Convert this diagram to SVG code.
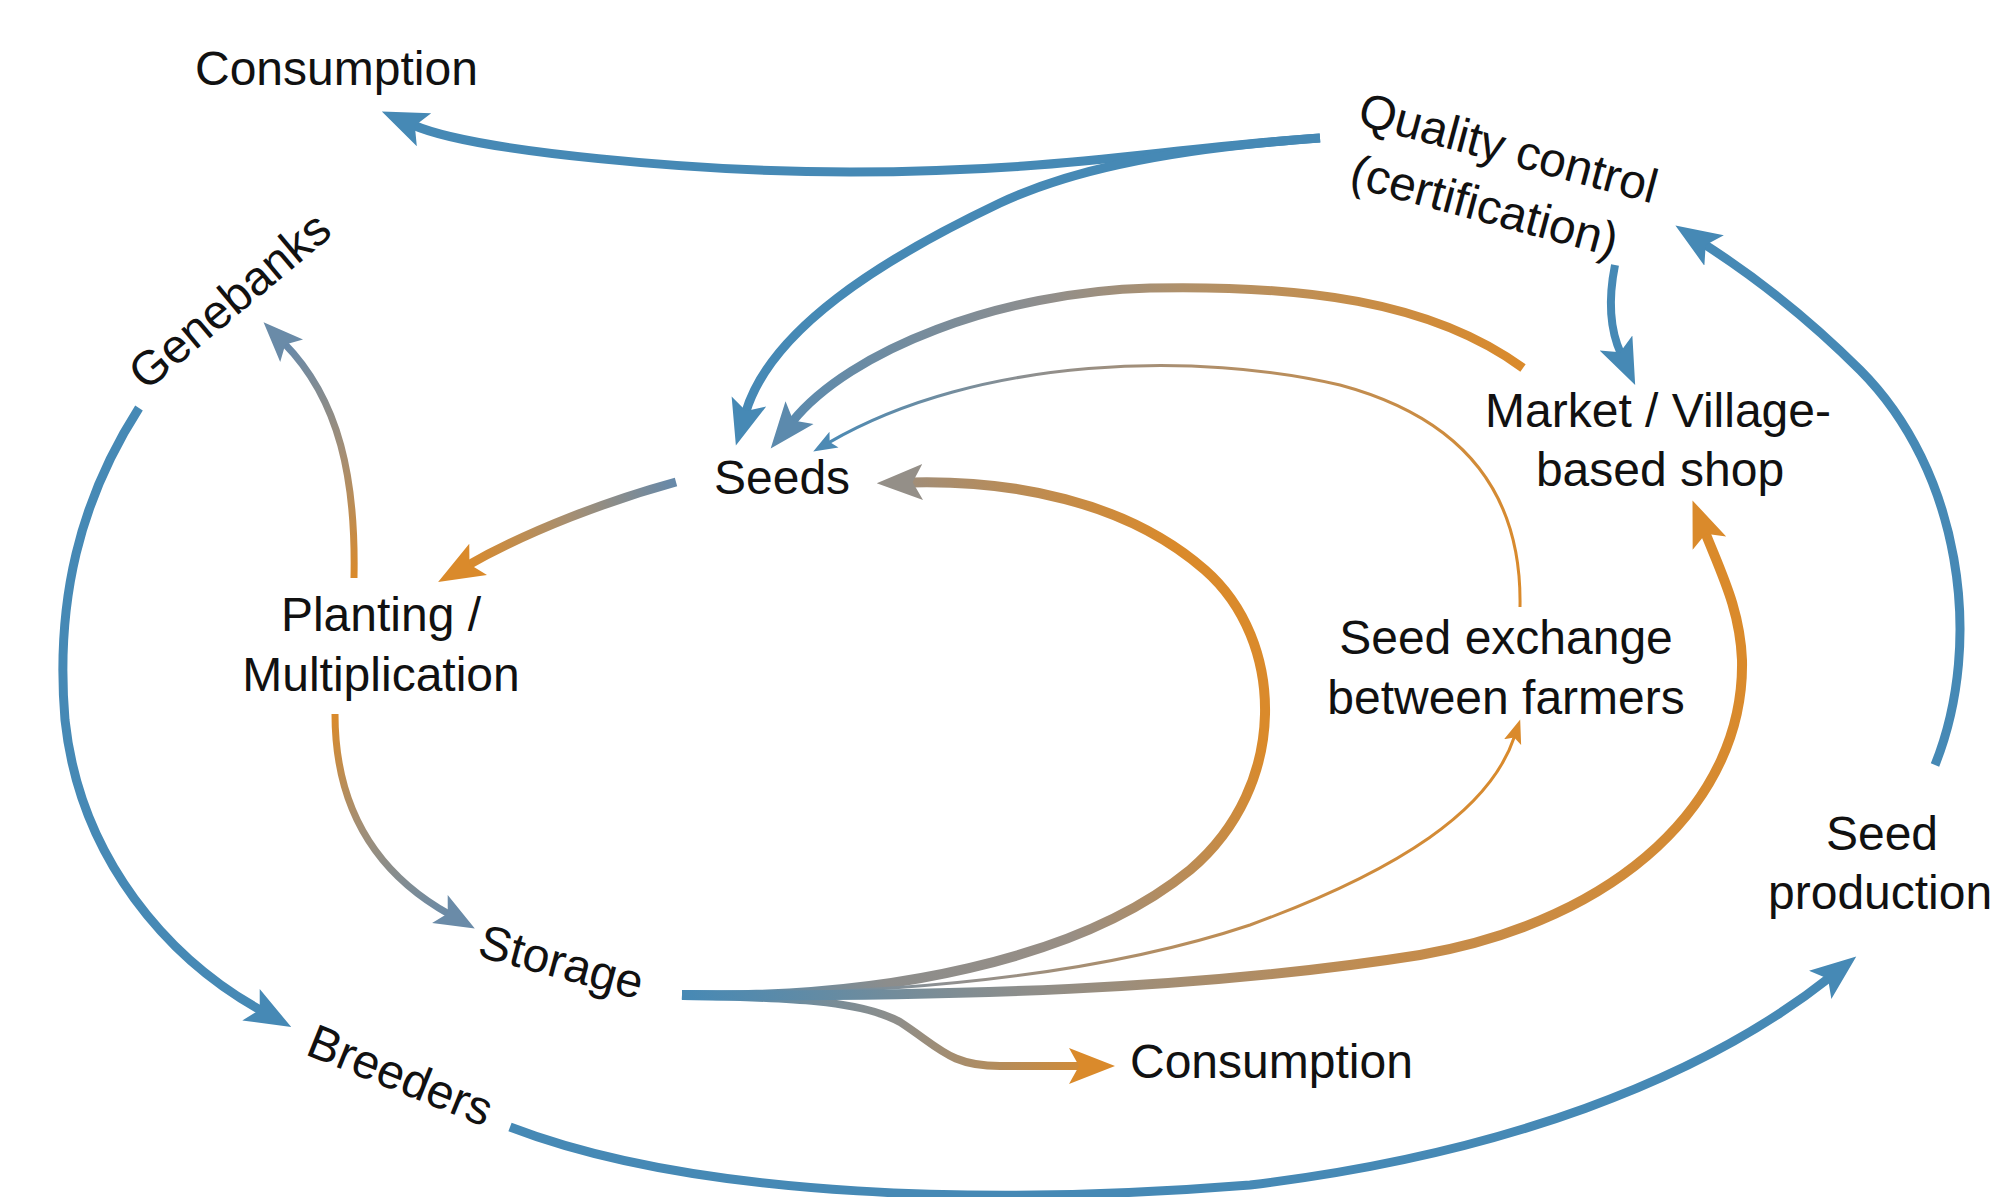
<svg xmlns="http://www.w3.org/2000/svg" width="1990" height="1197" viewBox="0 0 1990 1197">
<style>
text{font-family:"Liberation Sans",Arial,sans-serif;font-size:48px;fill:#111}
.c{fill:none;stroke-linecap:butt}
.b{stroke:#4689b5}
.w9{stroke-width:9}
.w8{stroke-width:8}
.w7{stroke-width:7}
.w3{stroke-width:3}
.w10{stroke-width:10}
</style>
<defs>
<marker id="hBlue" markerUnits="userSpaceOnUse" markerWidth="50" markerHeight="40" viewBox="0 -20 50 40" refX="12" refY="0" orient="auto"><path d="M0,-18 L46,0 L0,18 L10,0 Z" fill="#4689b5"/></marker>
<marker id="hOrange" markerUnits="userSpaceOnUse" markerWidth="50" markerHeight="40" viewBox="0 -20 50 40" refX="12" refY="0" orient="auto"><path d="M0,-18 L46,0 L0,18 L10,0 Z" fill="#da8a2b"/></marker>
<marker id="hSteel" markerUnits="userSpaceOnUse" markerWidth="50" markerHeight="40" viewBox="0 -20 50 40" refX="12" refY="0" orient="auto"><path d="M0,-18 L46,0 L0,18 L10,0 Z" fill="#5c8aad"/></marker>
<marker id="hGray" markerUnits="userSpaceOnUse" markerWidth="50" markerHeight="40" viewBox="0 -20 50 40" refX="12" refY="0" orient="auto"><path d="M0,-18 L46,0 L0,18 L10,0 Z" fill="#948f88"/></marker>
<marker id="hMid" markerUnits="userSpaceOnUse" markerWidth="44" markerHeight="36" viewBox="0 -18 44 36" refX="11" refY="0" orient="auto"><path d="M0,-16 L40,0 L0,16 L9,0 Z" fill="#6a8ba8"/></marker>
<marker id="tBlue" markerUnits="userSpaceOnUse" markerWidth="26" markerHeight="20" viewBox="0 -10 26 20" refX="6" refY="0" orient="auto"><path d="M0,-9 L24,0 L0,9 L5,0 Z" fill="#4c8ab4"/></marker>
<marker id="tOrange" markerUnits="userSpaceOnUse" markerWidth="26" markerHeight="20" viewBox="0 -10 26 20" refX="6" refY="0" orient="auto"><path d="M0,-9 L24,0 L0,9 L5,0 Z" fill="#da8a2b"/></marker>
<linearGradient id="gMarketSeeds" gradientUnits="userSpaceOnUse" x1="1520" y1="370" x2="790" y2="430"><stop offset="0" stop-color="#da8a2b"/><stop offset="0.45" stop-color="#b0916b"/><stop offset="0.65" stop-color="#8e8e8e"/><stop offset="1" stop-color="#5a8aae"/></linearGradient>
<linearGradient id="gExchSeeds" gradientUnits="userSpaceOnUse" x1="1520" y1="600" x2="830" y2="445"><stop offset="0" stop-color="#da8a2b"/><stop offset="0.5" stop-color="#b08f6a"/><stop offset="0.75" stop-color="#8d8f90"/><stop offset="1" stop-color="#4c8ab4"/></linearGradient>
<linearGradient id="gSeedsPlant" gradientUnits="userSpaceOnUse" x1="676" y1="482" x2="467" y2="565"><stop offset="0" stop-color="#6689aa"/><stop offset="0.5" stop-color="#a68f72"/><stop offset="1" stop-color="#da8a2b"/></linearGradient>
<linearGradient id="gPlantGene" gradientUnits="userSpaceOnUse" x1="354" y1="578" x2="284" y2="343"><stop offset="0" stop-color="#da8a2b"/><stop offset="0.5" stop-color="#a48e74"/><stop offset="1" stop-color="#6689aa"/></linearGradient>
<linearGradient id="gPlantStor" gradientUnits="userSpaceOnUse" x1="335" y1="714" x2="450" y2="914"><stop offset="0" stop-color="#da8a2b"/><stop offset="0.5" stop-color="#a08f78"/><stop offset="1" stop-color="#6a8aa6"/></linearGradient>
<linearGradient id="gLoop" gradientUnits="userSpaceOnUse" x1="690" y1="1000" x2="1265" y2="750"><stop offset="0" stop-color="#4689b5"/><stop offset="0.3" stop-color="#8c8d8c"/><stop offset="0.6" stop-color="#988e84"/><stop offset="1" stop-color="#da8a2b"/></linearGradient>
<linearGradient id="gMarket" gradientUnits="userSpaceOnUse" x1="682" y1="995" x2="1740" y2="650"><stop offset="0" stop-color="#4689b5"/><stop offset="0.3" stop-color="#8f8e8a"/><stop offset="0.6" stop-color="#c18c50"/><stop offset="1" stop-color="#da8a2b"/></linearGradient>
<linearGradient id="gExch" gradientUnits="userSpaceOnUse" x1="682" y1="995" x2="1515" y2="737"><stop offset="0" stop-color="#4689b5"/><stop offset="0.3" stop-color="#909090"/><stop offset="0.7" stop-color="#c98c45"/><stop offset="1" stop-color="#da8a2b"/></linearGradient>
<linearGradient id="gCons" gradientUnits="userSpaceOnUse" x1="682" y1="995" x2="1110" y2="1066"><stop offset="0" stop-color="#4689b5"/><stop offset="0.5" stop-color="#8f8e8a"/><stop offset="1" stop-color="#da8a2b"/></linearGradient>
</defs>
<rect width="1990" height="1197" fill="#fff"/>
<g id="connectors">
<path id="qc-consumption" class="c b w9" d="M1320,138 C1150,150 1060,172 850,172 C700,172 475,152 413,125" marker-end="url(#hBlue)"/>
<path id="qc-seeds" class="c b w9" d="M1320,138 C1150,150 1060,175 1000,203 C880,260 770,330 745.5,413" marker-end="url(#hBlue)"/>
<path id="qc-market" class="c b w8" d="M1615,265 C1608,300 1610,330 1621,354" marker-end="url(#hBlue)"/>
<path id="prod-qc" class="c b w9" d="M1935,765 C1985,640 1960,470 1860,370 C1810,320 1760,280 1704,244" marker-end="url(#hBlue)"/>
<path id="gene-breeders" class="c b w9" d="M139,408 C80,500 55,600 65,720 C80,860 170,960 261.5,1010.6" marker-end="url(#hBlue)"/>
<path id="breeders-prod" class="c b w9" d="M510,1127 C700,1200 1000,1205 1250,1185 C1500,1155 1700,1080 1829.6,977.5" marker-end="url(#hBlue)"/>
<path id="market-seeds" class="c w9" stroke="url(#gMarketSeeds)" d="M1523,368 C1430,300 1300,285 1150,288 C1000,292 850,350 792,422" marker-end="url(#hSteel)"/>
<path id="exchange-seeds" class="c w3" stroke="url(#gExchSeeds)" d="M1520,607 C1522,500 1470,420 1340,385 C1200,352 980,355 828.8,442.6" marker-end="url(#tBlue)"/>
<path id="seeds-planting" class="c w9" stroke="url(#gSeedsPlant)" d="M676,482 C610,500 530,530 467.7,565.3" marker-end="url(#hOrange)"/>
<path id="planting-genebanks" class="c w7" stroke="url(#gPlantGene)" d="M354,578 C356,480 340,400 283.9,343" marker-end="url(#hMid)"/>
<path id="planting-storage" class="c w7" stroke="url(#gPlantStor)" d="M335,714 C335,800 370,870 449.5,914.4" marker-end="url(#hMid)"/>
<path id="storage-seeds" class="c w10" stroke="url(#gLoop)" d="M682,995 C880,1000 1080,960 1190,870 C1290,785 1285,640 1205,570 C1125,500 1010,480 910.7,482.4" marker-end="url(#hGray)"/>
<path id="storage-exchange" class="c w3" stroke="url(#gExch)" d="M682,995 C900,995 1100,975 1250,925 C1400,870 1490,810 1514.5,736.5" marker-end="url(#tOrange)"/>
<path id="storage-consumption" class="c w8" stroke="url(#gCons)" d="M682,995 C790,998 860,1000 900,1022 C940,1048 950,1066 1000,1066 L1081,1066" marker-end="url(#hOrange)"/>
<path id="storage-market" class="c w10" stroke="url(#gMarket)" d="M682,995 C950,997 1200,990 1420,955 C1620,920 1745,800 1742,660 C1740,610 1722,575 1705,532" marker-end="url(#hOrange)"/>
</g>
<g id="node-consumption-top"><text x="195" y="85">Consumption</text></g>
<g id="node-genebanks"><text transform="translate(146,392) rotate(-40)">Genebanks</text></g>
<g id="node-quality-control" transform="translate(1356,124) rotate(15)"><text x="0" y="0">Quality control</text><text x="8" y="62">(certification)</text></g>
<g id="node-seeds"><text x="714" y="494">Seeds</text></g>
<g id="node-market" text-anchor="middle"><text x="1658" y="427">Market / Village-</text><text x="1660" y="486">based shop</text></g>
<g id="node-planting" text-anchor="middle"><text x="381" y="631">Planting /</text><text x="381" y="691">Multiplication</text></g>
<g id="node-exchange" text-anchor="middle"><text x="1506" y="654">Seed exchange</text><text x="1506" y="714">between farmers</text></g>
<g id="node-storage"><text transform="translate(476,956) rotate(15)">Storage</text></g>
<g id="node-breeders"><text transform="translate(304,1054) rotate(22)">Breeders</text></g>
<g id="node-consumption-bottom"><text x="1130" y="1078">Consumption</text></g>
<g id="node-seed-production"><text x="1882" y="850" text-anchor="middle">Seed</text><text x="1768" y="909">production</text></g>
</svg>
